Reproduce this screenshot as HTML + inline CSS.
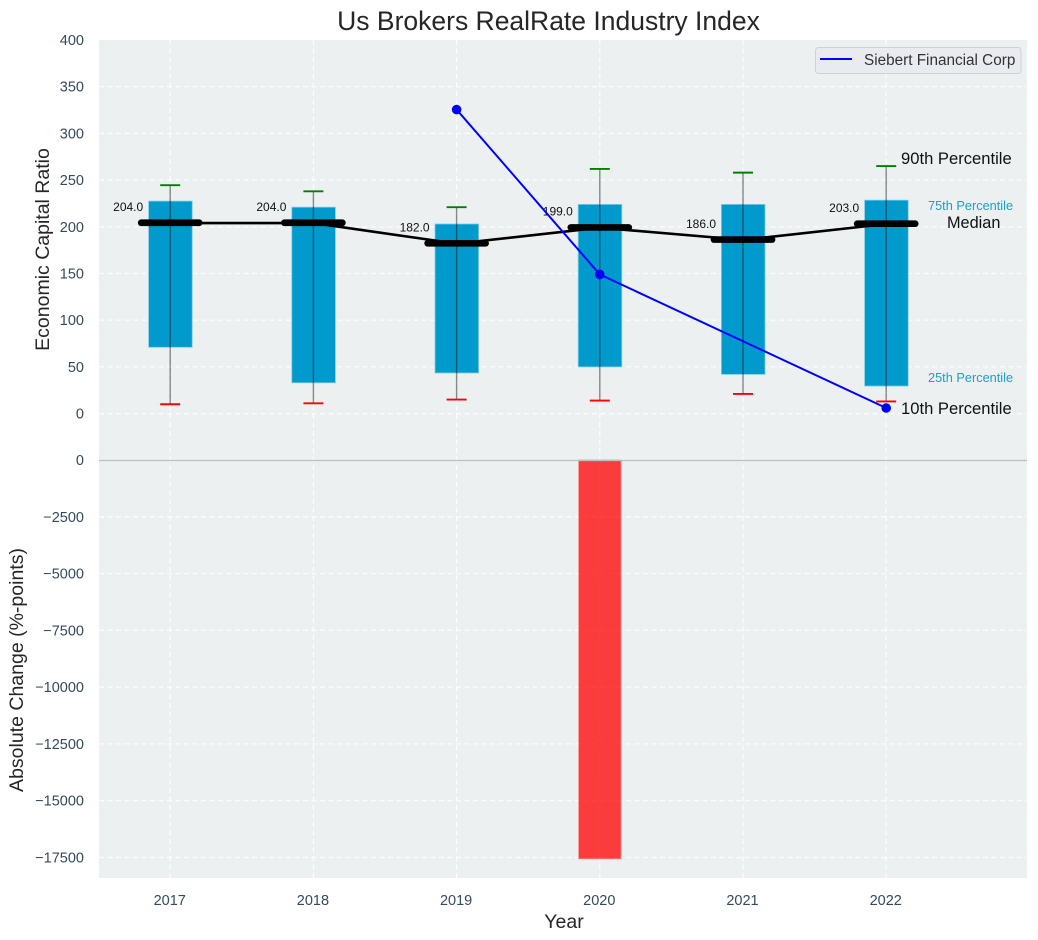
<!DOCTYPE html>
<html lang="en">
<head>
<meta charset="utf-8">
<title>Us Brokers RealRate Industry Index</title>
<style>
html,body{margin:0;padding:0;background:#fff;}
svg{display:block;font-family:"Liberation Sans",Arial,sans-serif;}
</style>
</head>
<body>
<svg id="chart" xmlns="http://www.w3.org/2000/svg" width="1038" height="940" viewBox="0 0 1038 940">
  <rect x="99" y="40" width="928" height="420" fill="#ecf0f1"/>
  <rect x="99" y="460" width="928" height="418" fill="#ecf0f1"/>
  <g id="grid"></g>
  <g id="bottomMarks"></g>
  <g id="topMarks"></g>
  <line x1="99" y1="460.5" x2="1027" y2="460.5" stroke="#bdbfc1" stroke-width="1.2"/>
  <g id="ticks" font-size="14.5" fill="#34495e"></g>
  <text x="548.5" y="30" font-size="26.5" fill="#262626" text-anchor="middle">Us Brokers RealRate Industry Index</text>
  <text transform="translate(49,249.5) rotate(-90)" font-size="19.5" fill="#262626" text-anchor="middle">Economic Capital Ratio</text>
  <text transform="translate(23,670) rotate(-90)" font-size="19.5" fill="#262626" text-anchor="middle">Absolute Change (%-points)</text>
  <text x="564" y="928" font-size="19.5" fill="#262626" text-anchor="middle">Year</text>
  <g>
    <rect x="815.5" y="47.5" width="205.5" height="26" rx="3" fill="#e9ebf0" stroke="#cfd1d3"/>
    <line x1="820" y1="59" x2="852" y2="59" stroke="#0000ff" stroke-width="2"/>
    <text x="864" y="65" font-size="15.3" fill="#333">Siebert Financial Corp</text>
  </g>
  <g>
    <text x="901" y="164" font-size="16.6" fill="#111">90th Percentile</text>
    <text x="928" y="210" font-size="12.75" fill="#1f9fcc">75th Percentile</text>
    <text x="947" y="228" font-size="16.3" fill="#111">Median</text>
    <text x="928" y="382" font-size="12.75" fill="#1f9fcc">25th Percentile</text>
    <text x="901" y="414" font-size="16.6" fill="#111">10th Percentile</text>
  </g>
</svg>
<script>
const years = [2017, 2018, 2019, 2020, 2021, 2022];
const p90 = [244.5, 238, 221, 262, 258, 265];
const p75 = [227.5, 221, 203, 224, 224, 228.5];
const median = [204, 204, 182, 199, 186, 203];
const p25 = [71, 33, 43.5, 50, 42, 29.5];
const p10 = [10, 11, 15, 14, 21, 13];
const siebert = [null, null, 325.5, 149, null, 6];
const absoluteChange = [0, 0, 0, -17560, 0, 0];
const topTicks = [0, 50, 100, 150, 200, 250, 300, 350, 400];
const bottomTicks = [0, -2500, -5000, -7500, -10000, -12500, -15000, -17500];

const NS = 'http://www.w3.org/2000/svg';
function xPos(year) { return 170.2 + (year - 2017) * 143.2; }
function yTop(v) { return 413.6 - v * 0.934; }
function yBottom(v) { return 460 - v * 0.022714; }
function make(parent, tag, attrs, text) {
  const el = document.createElementNS(NS, tag);
  for (const k in attrs) el.setAttribute(k, attrs[k]);
  if (text !== undefined) el.textContent = text;
  parent.appendChild(el);
  return el;
}
const grid = document.getElementById('grid');
const ticks = document.getElementById('ticks');
const bottomMarks = document.getElementById('bottomMarks');
const topMarks = document.getElementById('topMarks');
const dash = { stroke: '#ffffff', 'stroke-width': 1.2, 'stroke-dasharray': '5 3.5', opacity: 0.9 };

topTicks.forEach(function (t) {
  const y = yTop(t);
  if (t !== 400) {
    const g = make(grid, 'line', Object.assign({ x1: 99, x2: 1027, y1: y, y2: y }, dash));
    
    
  }
  const l = make(ticks, 'text', { x: 84, y: y + 5, 'text-anchor': 'end' }, String(t));
  
  
});
bottomTicks.forEach(function (t) {
  const y = yBottom(t);
  if (t !== 0) {
    const g = make(grid, 'line', Object.assign({ x1: 99, x2: 1027, y1: y, y2: y }, dash));
    
    
  }
  const label = t < 0 ? '\u2212' + Math.abs(t) : String(t);
  const l = make(ticks, 'text', { x: 84, y: y + 5, 'text-anchor': 'end' }, label);
  
  
});
years.forEach(function (yr) {
  const x = xPos(yr);
  const g = make(grid, 'line', Object.assign({ x1: x, x2: x, y1: 40, y2: 878 }, dash));
  
  
  const l = make(ticks, 'text', { x: x - 0.5, y: 905, 'text-anchor': 'middle' }, String(yr));
  
  
});

years.forEach(function (yr, i) {
  const v = absoluteChange[i];
  if (v === 0) return;
  const x = xPos(yr);
  const b = make(bottomMarks, 'rect', {
    x: x - 21.2, y: yBottom(0), width: 42.4, height: yBottom(v) - yBottom(0),
    fill: '#ff0000', 'fill-opacity': 0.75, stroke: '#ff8a8a', 'stroke-width': 0.8
  });
  
  
});

years.forEach(function (yr, i) {
  const x = xPos(yr);
  const b = make(topMarks, 'rect', {
    x: x - 21.6, y: yTop(p75[i]), width: 43.6, height: yTop(p25[i]) - yTop(p75[i]),
    fill: '#009acd', stroke: '#7fcbe6', 'stroke-width': 0.8
  });
  
  
  const w = make(topMarks, 'line', {
    x1: x, x2: x, y1: yTop(p90[i]), y2: yTop(p10[i]),
    stroke: '#000', 'stroke-opacity': 0.45, 'stroke-width': 1.4
  });
  
  
  const hi = make(topMarks, 'line', { x1: x - 10, x2: x + 10, y1: yTop(p90[i]), y2: yTop(p90[i]), stroke: '#008000', 'stroke-width': 1.9 });
  
  
  const lo = make(topMarks, 'line', { x1: x - 10, x2: x + 10, y1: yTop(p10[i]), y2: yTop(p10[i]), stroke: '#ff0000', 'stroke-width': 1.9 });
  
  
});

const medianPoints = years.map(function (yr, i) { return xPos(yr) + ',' + yTop(median[i]); }).join(' ');
const medianLine = make(topMarks, 'polyline', { points: medianPoints, fill: 'none', stroke: '#000', 'stroke-width': 2.6 });



years.forEach(function (yr, i) {
  const x = xPos(yr);
  const y = yTop(median[i]);
  const m = make(topMarks, 'line', { x1: x - 29, x2: x + 29, y1: y - 0.3, y2: y - 0.3, stroke: '#000', 'stroke-width': 6.7, 'stroke-linecap': 'round' });
  
  
  const t = make(topMarks, 'text', { x: x - 27, y: y - 12, 'font-size': 12, fill: '#111', 'text-anchor': 'end' }, median[i].toFixed(1));
  
  
});

const siebertPoints = [];
years.forEach(function (yr, i) {
  if (siebert[i] !== null) siebertPoints.push(xPos(yr) + ',' + yTop(siebert[i]));
});
const siebertLine = make(topMarks, 'polyline', { points: siebertPoints.join(' '), fill: 'none', stroke: '#0000ff', 'stroke-width': 2 });


years.forEach(function (yr, i) {
  if (siebert[i] === null) return;
  const p = make(topMarks, 'circle', { cx: xPos(yr), cy: yTop(siebert[i]), r: 4.8, fill: '#0000ff' });
  
  
});
</script>
</body>
</html>
